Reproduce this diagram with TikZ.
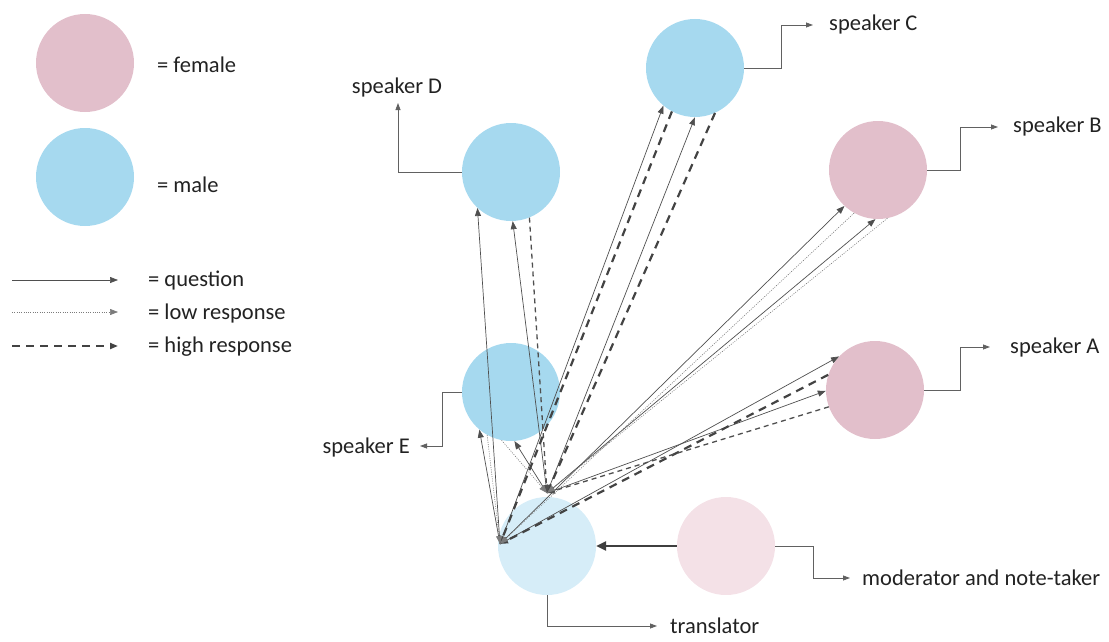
\documentclass[tikz,border=0pt]{standalone}
\usepackage{fontspec}
\setmainfont{Carlito}
\usetikzlibrary{arrows.meta}
\definecolor{fem}{HTML}{E2BFCB}
\definecolor{mal}{HTML}{A6D9EF}
\definecolor{trans}{HTML}{D6EDF8}
\definecolor{modc}{HTML}{F4E1E7}
\definecolor{ln}{HTML}{4F4F4F}
\definecolor{txt}{HTML}{222222}
\begin{document}
\begin{tikzpicture}[x=1pt,y=-1pt,
 person/.style={circle,minimum size=98pt,inner sep=0pt},
 lbl/.style={font=\fontsize{22.5}{26}\selectfont, text=txt, inner sep=0pt},
 tip/.style={-{Triangle[length=8pt,width=6pt]}},
 question/.style={tip, draw=ln, line width=0.7pt},
 lowresp/.style={tip, draw=ln!75, line width=0.6pt, dash pattern=on 1pt off 1.3pt},
 highresp/.style={tip, draw=ln!85!black, line width=2.2pt, dash pattern=on 8pt off 6pt},
 midresp/.style={tip, draw=ln, line width=1.3pt, dash pattern=on 5pt off 4pt},
 callout/.style={-{Triangle[length=7pt,width=5pt]}, draw=ln!90, line width=0.8pt}
]
\useasboundingbox (0,0) rectangle (1109,642);

% legend
\node[person,fill=fem] (lf) at (85,63) {};
\node[person,fill=mal] (lm) at (85,177) {};
\node[lbl,anchor=west] (tf) at (157,65) {= female};
\node[lbl,anchor=west] (tm) at (157,185) {= male};
\coordinate (q1) at (12,280); \coordinate (q2) at (118,280);
\coordinate (l1) at (12,312); \coordinate (l2) at (118,312);
\coordinate (r1) at (12,346); \coordinate (r2) at (118,346);
\draw[question] (q1) -- (q2);
\draw[lowresp] (l1) -- (l2);
\draw[highresp] (r1) -- (r2);
\node[lbl,anchor=west] (tq) at (148,281) {= question};
\node[lbl,anchor=west] (tl) at (148,313) {= low response};
\node[lbl,anchor=west] (th) at (148,347) {= high response};

% people
\node[person,fill=mal] (C) at (695,68) {};
\node[person,fill=mal] (D) at (511,172) {};
\node[person,fill=fem] (B) at (878,170) {};
\node[person,fill=mal] (E) at (511,392) {};
\node[person,fill=fem] (A) at (875,390) {};
\node[person,fill=trans] (T) at (547,546) {};
\node[person,fill=modc] (M) at (726,546) {};

% hubs
\coordinate (h1) at (500,544);
\coordinate (h2) at (547,493);

% questions
\draw[question] (h1) -- (C.230);
\draw[question] (h2) -- (C.270);
\draw[question] (h1) -- (D.227);
\draw[question] (h2) -- (D.272);
\draw[question] (h1) -- (B.227);
\draw[question] (h2) -- (B.267);
\draw[question] (h1) -- (A.137);
\draw[question] (h2) -- (A.181);
\draw[question] (h1) -- (E.230);
\draw[question] (h2) -- (E.274);
% responses
\draw[highresp] (C.242) -- (h1);
\draw[highresp] (C.294) -- (h2);
\draw[highresp] (A.162) -- (h1);
\draw[midresp] (D.292) -- (h2);
\draw[midresp] (A.200) -- (h2);
\draw[lowresp] (B.241) -- (h1);
\draw[lowresp] (B.281) -- (h2);
\draw[lowresp] (E.241) -- (h1);
\draw[lowresp] (E.259) -- (h2);

% moderator to translator
\draw[line width=2.5pt, draw=ln!80!black, -{Triangle[length=10pt,width=9pt]}] (M.west) -- (T.east);

% labels
\node[lbl,anchor=west] (labC) at (829,25) {speaker C};
\node[lbl,anchor=west] (labB) at (1013,127) {speaker B};
\node[lbl,anchor=west] (labA) at (1010,347) {speaker A};
\node[lbl] (labD) at (397,88) {speaker D};
\node[lbl,anchor=east] (labE) at (410,447) {speaker E};
\node[lbl,anchor=west] (labT) at (670,626) {translator};
\node[lbl,anchor=west] (labM) at (862,578) {moderator and note-taker};

\coordinate (kC) at (781,25); \coordinate (eC) at (813,25);
\coordinate (kB) at (960,127); \coordinate (eB) at (998,127);
\coordinate (kA) at (960,347); \coordinate (eA) at (990,347);
\coordinate (kD) at (398,103);
\coordinate (kE) at (442,446); \coordinate (eE) at (420,446);
\coordinate (eT) at (657,626);
\coordinate (kM) at (813,578); \coordinate (eM) at (850,578);

\draw[callout] (C.east) -| (kC) -- (eC);
\draw[callout] (B.east) -| (kB) -- (eB);
\draw[callout] (A.east) -| (kA) -- (eA);
\draw[callout] (D.west) -| (kD);
\draw[callout] (E.west) -| (kE) -- (eE);
\draw[callout] (T.south) |- (eT);
\draw[callout] (M.east) -| (kM) -- (eM);
\end{tikzpicture}
\end{document}
